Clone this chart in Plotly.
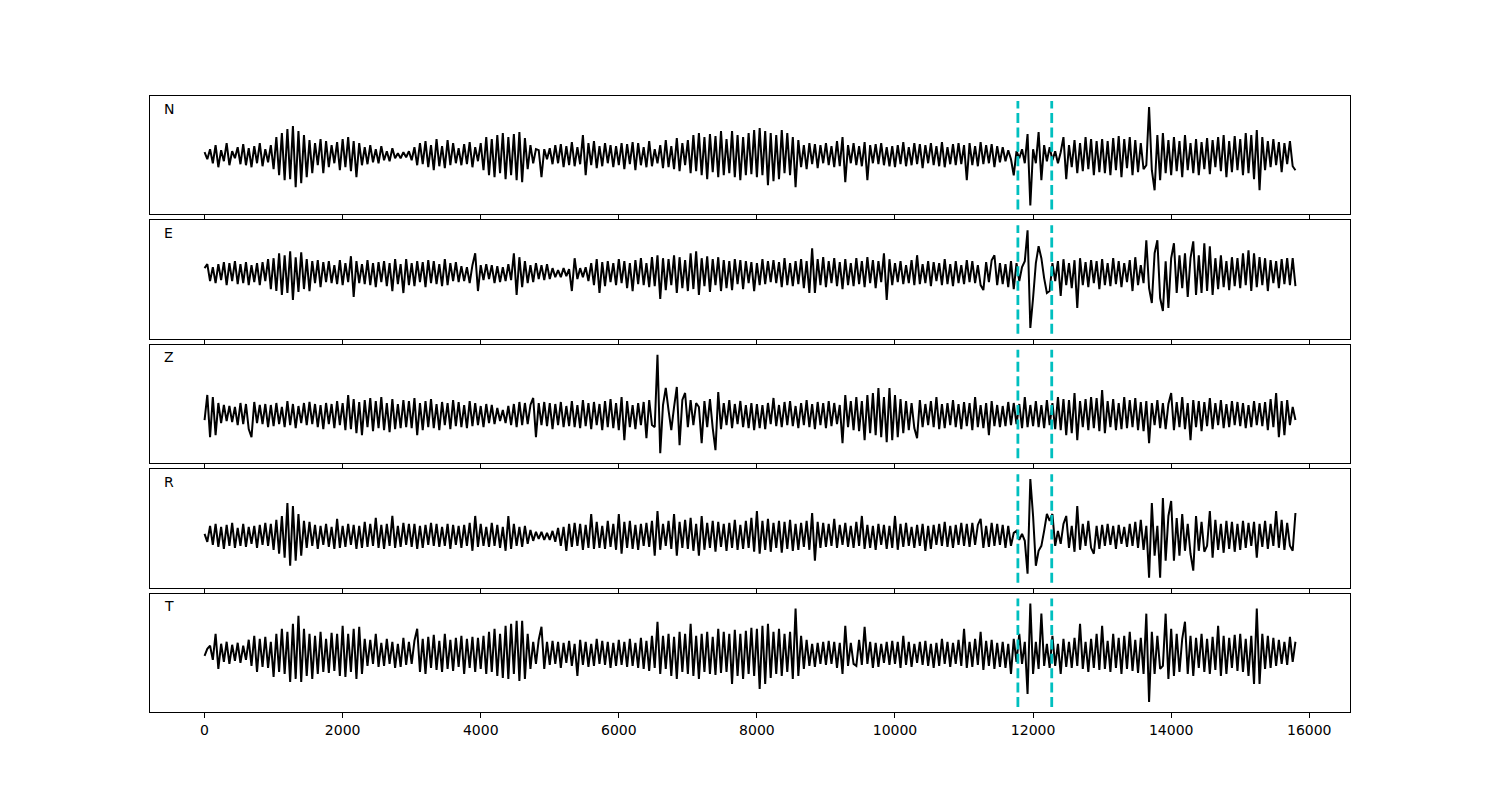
import numpy as np
import plotly.graph_objects as go
from plotly.subplots import make_subplots

COMPONENTS = ["N", "E", "Z", "R", "T"]
SAMPLE_STEP = 40          # sample interval of the traces (x units)
PICKS = [11780, 12270]    # dashed pick lines
X_TICKS = list(range(0, 16001, 2000))
X_TICK_LABELS = [str(v) for v in X_TICKS]
X_RANGE = [-790, 16590]
Y_RANGES = {"N": [-59, 59], "E": [-66, 53], "Z": [-48, 70], "R": [-52, 67], "T": [-58, 60]}

# amplitudes, one value every SAMPLE_STEP
N_VALUES = [
    3,-4,6,-8,10,-12,5,-6,12,-10,4,-3,8,-9,11,-10,7,-12,9,-8,12,-11,6,-7,10,
    -14,18,-20,22,-25,26,-24,29,-32,24,-28,20,-22,15,-18,12,-10,16,-18,14,-12,10,-8,13,-15,
    16,-12,18,-16,14,-22,12,-10,8,-9,10,-7,6,-8,9,-5,4,-6,7,-3,2,-3,3,-2,4,
    -5,8,-10,12,-9,14,-12,10,-15,16,-11,9,-13,15,-10,12,-8,7,-10,11,-9,13,-12,8,-6,
    12,-15,18,-20,16,-22,20,-18,22,-24,18,-20,21,-25,23,-27,17,-14,10,-8,6,5,-22,6,-4,
    7,-9,10,-8,11,-12,9,-10,13,-11,8,-9,20,-20,12,-10,14,-13,9,-11,12,-8,10,-12,9,
    -10,12,-14,11,-9,13,-15,12,-10,8,-12,14,-11,6,-8,10,-13,15,-12,9,-14,17,-16,12,-10,
    15,-18,20,-16,22,-20,18,-24,21,-17,19,-22,24,-20,16,-18,24,-22,20,-25,18,-20,22,-19,25,
    -22,27,-20,24,-30,22,-26,20,-24,25,-18,22,-20,18,-32,15,-12,10,-14,12,-9,11,-13,10,-8,
    12,-10,9,-12,14,-11,18,-27,10,-8,12,-10,9,-11,13,-25,10,-8,11,-9,12,-10,8,-11,9,
    -12,10,-9,13,-11,8,-10,12,-9,11,-13,10,-8,12,-10,9,-11,13,-12,8,-9,11,-10,12,-9,
    10,-25,12,-10,9,-11,13,-9,10,-8,11,-12,9,-7,8,-6,5,-4,-20,4,-3,6,-8,21,-50,
    6,-8,23,-25,10,-6,8,-5,4,-8,3,18,-24,10,-12,15,-18,12,-16,18,-14,16,-20,14,-17,
    16,-18,14,-20,17,-15,19,-22,16,-13,18,-20,15,-17,12,-14,-10,48,-15,-35,20,-25,22,-18,15,
    -20,18,-16,14,-22,20,-15,12,-18,16,-20,13,-14,17,-19,15,-12,18,-16,20,-22,14,-17,19,-15,
    16,-20,22,-18,20,-24,25,-35,18,-15,14,-12,16,-10,13,-17,12,-9,14,-11,-15,
]

E_VALUES = [
    5,9,-8,6,-10,9,-7,11,-12,10,-8,12,-11,9,-10,11,-12,8,-9,10,-12,11,-8,14,-16,
    15,-18,20,-22,18,-20,22,-27,16,-19,21,-16,14,-18,12,-10,13,-14,11,-9,12,-10,8,-11,13,
    -12,10,-9,17,-24,12,-10,9,-11,13,-12,10,-14,11,-9,12,-13,10,-18,14,-11,9,-20,14,-12,
    10,-13,12,-9,11,-14,13,-10,12,-11,9,-13,14,-12,10,-8,11,-9,7,-8,6,-10,8,20,-18,
    8,-7,9,-6,8,-10,7,-9,6,-8,9,-7,20,-22,16,-14,12,-10,8,-9,10,-6,8,-7,9,
    -6,5,-4,3,-4,5,-3,4,-18,15,-6,5,-4,6,-8,10,-12,14,-20,11,-13,12,-9,10,-12,
    14,-10,12,-15,10,-18,13,-11,15,-12,10,-14,16,-13,18,-26,15,-17,14,-12,18,-20,16,-15,13,
    -18,20,-16,22,-22,15,-13,17,-19,14,-12,16,-18,13,-15,12,-17,14,-11,13,-16,12,-10,11,-18,
    10,-12,14,-11,12,-9,13,-10,11,-14,15,-12,10,-13,12,-11,14,-15,12,-20,25,-20,14,-12,16,
    -14,12,-10,15,-13,11,-16,14,-12,10,-13,15,-11,12,-14,16,-10,13,-15,12,-9,20,-27,14,-12,
    10,-9,12,-11,8,-10,13,-12,18,-11,9,-10,12,-13,11,-8,10,-12,14,-11,9,-13,12,-10,8,
    -11,13,-9,12,-10,8,-12,-17,11,-9,13,18,-12,10,-11,9,-14,12,-16,10,-8,6,12,43,-55,
    -25,10,27,15,-5,-20,-18,10,-8,12,-23,14,-12,10,-15,13,-35,15,-12,11,-14,13,-10,12,-16,
    14,-12,10,-13,15,-11,12,-14,10,-9,13,-18,16,-12,8,-10,33,-15,-30,20,33,-25,-38,12,-35,
    15,30,-20,18,-15,20,-24,15,32,-22,18,-20,30,-18,27,-22,15,-16,18,-14,12,-17,16,-13,15,
    -15,20,-12,23,-18,20,-14,16,-12,15,-18,13,-10,12,-15,14,-11,15,-12,15,-13,
]

Z_VALUES = [
    -5,20,-22,18,-20,12,-8,10,-6,9,-7,8,-10,12,-9,11,-14,-22,13,-8,10,-9,11,-12,10,
    -11,12,-9,8,-12,14,-10,11,-13,9,-8,12,-10,13,-9,11,-12,10,-14,12,-9,11,-13,14,-10,
    12,-15,20,-14,16,-18,13,-20,15,-12,17,-16,14,-13,18,-15,12,-17,16,-14,11,-13,15,-12,14,
    -13,17,-20,12,-15,14,-12,16,-13,11,-15,13,-10,12,-14,15,-11,13,-12,10,-13,14,-11,12,-10,
    9,-12,11,-8,10,-9,7,-6,5,-8,9,-10,11,-12,13,-10,12,-9,10,17,-22,12,-10,13,-11,
    12,-14,11,-10,13,-12,9,-11,14,-12,10,-13,15,-11,12,-14,13,-10,11,-15,14,-12,16,-13,12,
    -15,18,-25,14,-12,10,-14,12,-10,13,-23,15,-10,-12,60,-38,10,27,5,-15,8,28,-30,15,22,
    -12,15,-10,12,8,-28,14,-12,16,-13,-35,23,-14,12,-10,15,-13,11,-9,14,-12,10,-13,12,-15,
    11,-13,10,-14,12,-9,17,-11,10,-12,13,-10,14,-11,9,-13,12,-10,15,-12,11,-14,13,-10,12,
    -13,14,-11,12,-9,10,-28,20,-12,14,-15,18,-16,14,-25,20,-18,22,-20,27,-22,18,-27,27,-25,
    20,-22,16,-18,14,-15,12,-13,-23,15,-12,11,-10,14,-12,18,-14,11,-13,12,-10,15,-12,11,-14,
    13,-11,12,-15,18,-12,10,-13,12,-20,14,-11,10,-12,9,-11,13,-10,12,-9,11,-13,18,-12,10,
    -11,14,-12,10,-13,15,-10,12,-14,18,-15,16,-20,15,-18,22,-25,14,-12,16,-15,18,-13,17,-16,
    25,-18,14,-12,16,-15,12,-14,18,-13,15,-12,17,-15,13,-16,14,-28,12,-10,15,-13,12,-14,11,
    22,-15,13,-12,18,-14,12,-25,15,-12,14,-16,13,-11,17,-14,12,-10,15,-13,11,-12,14,-10,13,
    -11,12,-13,10,-12,14,-10,12,-11,13,-15,16,-12,22,-22,14,-20,15,-10,8,-5,
]

R_VALUES = [
    2,-6,10,-9,12,-11,9,-13,11,-10,13,-12,8,-10,12,-11,9,-8,10,-12,11,-9,13,-10,12,
    -14,16,-18,20,-22,33,-30,30,-25,22,-20,15,-12,14,-10,11,-13,10,-9,12,-11,9,-13,17,-12,
    10,-11,12,-9,11,-13,10,-12,14,-11,12,-10,18,-12,11,-13,12,-10,20,-12,10,-11,13,-9,12,
    -11,12,-13,10,-12,11,-9,13,-10,12,-11,9,-10,12,-13,11,-9,10,-12,11,-10,13,-15,20,-11,
    12,-10,9,-11,13,-10,11,-12,9,-15,20,-13,12,-10,9,-11,10,-8,6,-5,4,-3,4,-4,3,
    -4,5,-6,8,-10,9,-15,12,-11,13,-10,12,-14,11,-12,22,-13,14,-12,10,-13,15,-11,12,-14,
    22,-18,14,-12,15,-13,11,-14,12,-10,13,-11,15,-20,25,-14,12,-10,15,-13,22,-20,14,-12,16,
    -13,18,-15,12,-20,20,-14,13,-12,15,-16,14,-11,12,-15,13,-12,16,-14,11,-13,15,-12,18,-16,
    25,-18,15,-14,17,-16,13,-12,15,-17,14,-13,16,-15,12,-14,13,-11,15,-14,23,-25,14,-12,13,
    -11,12,-10,17,-12,11,-9,13,-11,10,-12,14,-10,20,-13,11,-12,10,-14,12,-9,11,-13,10,-12,
    20,-14,12,-11,13,-10,9,-12,11,-10,12,-15,10,-13,11,-9,12,-10,14,-11,10,-12,11,-9,13,
    -10,12,-11,13,-9,11,17,-12,10,-11,13,-10,12,-9,11,-12,10,-10,3,5,-4,2,-5,-38,57,
    20,-30,-15,-10,5,22,15,22,-10,5,-8,12,20,-12,10,-16,30,-14,12,-10,15,-12,-18,10,-13,
    11,-10,12,-9,10,-13,11,-8,9,-11,12,-10,14,-12,16,-14,10,-42,33,-20,10,-42,38,-25,20,
    35,-25,18,-20,22,-15,12,-18,-35,20,-15,14,-16,-10,25,-22,16,-14,12,-17,15,-13,14,-16,12,
    -14,15,-12,13,-10,14,-22,12,-11,15,-13,12,-10,25,-12,16,-14,13,-10,-15,23,
]

T_VALUES = [
    -2,5,8,-6,20,-15,10,-8,12,-10,9,-7,11,-9,8,-6,14,-12,18,-18,15,-13,17,-14,12,
    -23,20,-18,25,-20,22,-28,30,-25,38,-28,25,-22,20,-25,18,-20,22,-18,15,-19,21,-17,20,-22,
    28,-23,20,-18,25,-25,27,-20,15,-12,14,-10,20,-13,11,-12,15,-10,12,-14,10,-13,16,-11,12,
    -10,13,25,-18,15,-20,17,-14,19,-16,13,-18,20,-15,14,-17,16,-13,18,-20,15,-14,17,-18,16,
    -15,18,-20,22,-18,25,-22,20,-24,28,-25,30,-20,33,-27,33,-25,20,-15,12,-10,14,27,-15,12,
    -11,13,-10,12,-14,11,-9,13,-12,10,-22,14,-11,12,-13,10,-12,15,-10,13,-11,12,-14,11,-12,
    14,-11,12,-13,15,-12,11,-14,16,-15,13,-17,18,-14,32,-20,18,-15,20,-22,17,-25,22,-18,20,
    -20,30,-22,18,-25,20,-18,22,-20,17,-21,25,-19,22,-18,20,-30,24,-22,20,-25,23,-20,26,-22,
    25,-35,28,-30,30,-24,22,-20,25,-22,20,-18,22,-25,45,-22,18,-15,14,-12,10,-13,11,-10,12,
    -11,13,-10,12,-14,11,-20,28,-12,11,-10,-12,14,-11,27,-10,12,-14,11,-13,10,-9,12,-11,13,
    -10,12,-14,18,-11,12,-13,10,-9,12,-11,13,-12,10,-14,11,-12,15,-10,12,-13,11,-10,14,-12,
    25,-14,12,-13,15,-11,22,-16,13,-12,14,-15,11,-13,12,-14,10,-20,15,-8,20,-10,12,-40,50,
    -20,12,-15,40,-12,10,-14,18,-12,10,-20,15,-13,12,-14,16,-12,30,-15,12,-18,15,-14,20,-16,
    28,-15,13,-18,20,-14,16,-20,18,-15,22,-17,14,-19,16,-20,40,-48,22,-20,18,-15,-12,40,-25,
    25,-22,20,-18,15,32,-20,18,-22,16,-14,20,-18,15,-20,17,-16,28,-22,18,-20,16,-14,19,-17,
    20,-18,15,-22,18,-30,45,-30,20,-15,18,-14,16,-12,14,-10,12,-11,17,-8,12,
]

TRACES = {"N": N_VALUES, "E": E_VALUES, "Z": Z_VALUES, "R": R_VALUES, "T": T_VALUES}

# the page body adds an 8px offset; compensate in the figure size and margins
PAGE_OFFSET = 8
FIG_W, FIG_H = 1500 - PAGE_OFFSET, 800 - PAGE_OFFSET
M_L, M_R, M_T, M_B = 150 - PAGE_OFFSET, 150, 96 - PAGE_OFFSET, 88
PLOT_H = FIG_H - M_T - M_B
GAP_PX = 6
fig = make_subplots(rows=5, cols=1, shared_xaxes=True, vertical_spacing=GAP_PX / PLOT_H)

for i, comp in enumerate(COMPONENTS, start=1):
    vals = TRACES[comp]
    x = np.arange(len(vals)) * SAMPLE_STEP
    fig.add_trace(go.Scatter(x=x, y=vals, mode="lines",
                             line=dict(color="black", width=2),
                             showlegend=False, hoverinfo="skip"), row=i, col=1)
    lo, hi = Y_RANGES[comp]
    for p in PICKS:
        fig.add_shape(type="line", x0=p, x1=p, y0=lo + 5, y1=hi - 5,
                      line=dict(color="#00BFBF", width=2.8, dash="10px,4.4px"),
                      row=i, col=1)
    fig.add_annotation(text=comp, xref="x domain", yref="y domain", x=0.01, y=0.894,
                       xanchor="left", yanchor="middle", showarrow=False,
                       font=dict(family="DejaVu Sans", size=14, color="black"),
                       row=i, col=1)
    fig.update_yaxes(range=[lo, hi], row=i, col=1)

fig.update_xaxes(range=X_RANGE, tickvals=X_TICKS, ticktext=X_TICK_LABELS, ticks="outside",
                 ticklen=5, tickwidth=1,
                 tickcolor="black", showline=True, linecolor="black", linewidth=1, mirror=True,
                 showgrid=False, zeroline=False,
                 tickfont=dict(family="DejaVu Sans", size=14, color="black"))
fig.update_yaxes(showticklabels=False, ticks="", showgrid=False, zeroline=False,
                 showline=True, linecolor="black", linewidth=1, mirror=True)

fig.update_layout(width=FIG_W, height=FIG_H, margin=dict(l=M_L, r=M_R, t=M_T, b=M_B),
                  paper_bgcolor="white", plot_bgcolor="white", showlegend=False,
                  font=dict(family="DejaVu Sans", color="black"))

fig.write_html("out.html")
